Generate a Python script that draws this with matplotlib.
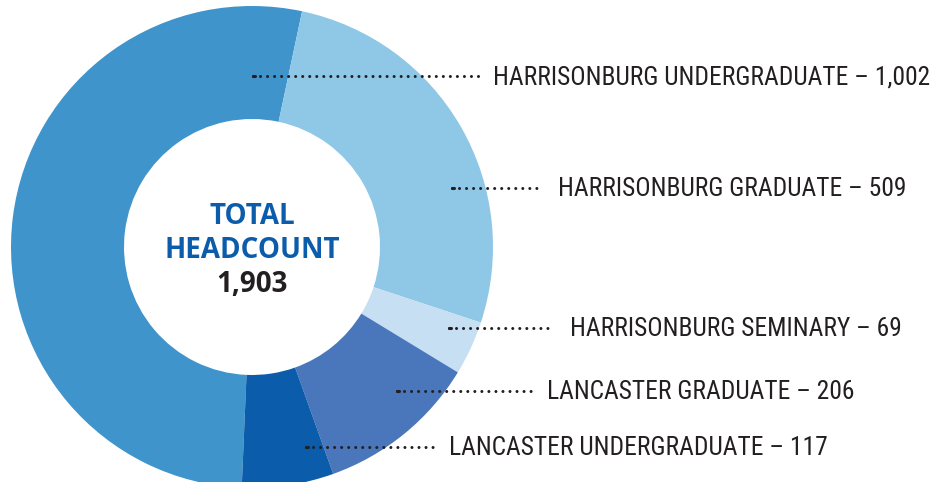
import matplotlib
matplotlib.use("Agg")
import os
import matplotlib.pyplot as plt
from matplotlib import font_manager
from matplotlib.font_manager import FontProperties

categories = ["HARRISONBURG UNDERGRADUATE", "HARRISONBURG GRADUATE", "HARRISONBURG SEMINARY",
              "LANCASTER GRADUATE", "LANCASTER UNDERGRADUATE"]
values = [1002, 509, 69, 206, 117]
total = 1903
colors = ["#3f94cc", "#8fc7e7", "#c6dff2", "#4a76bb", "#0b5caa"]


def find_font(bold=False):
    files = font_manager.findSystemFonts()
    prefs = ["RobotoCondensed", "OpenSansCondensed", "OpenSans_Condensed", "LiberationSansNarrow",
             "DejaVuSansCondensed", "NotoSansCondensed", "Roboto_Condensed"]
    for p in prefs:
        for f in files:
            b = os.path.basename(f).replace(" ", "").replace("-", "")
            if b.lower().startswith(p.lower()):
                rest = b[len(p):].lower()
                if bold:
                    if rest.startswith("bold") or rest.startswith("semibold"):
                        return f
                else:
                    if rest.startswith("regular") or rest.startswith(".ttf") or rest == ".ttf":
                        return f
    return None


f_reg = find_font(False)
lab_fp = FontProperties(fname=f_reg) if f_reg else FontProperties(family="Roboto")
ctr_fp = FontProperties(family="Open Sans", weight="bold")

W, H = 941, 482
fig = plt.figure(figsize=(W / 100, H / 100), dpi=100)
ax = fig.add_axes([0, 0, 1, 1])

cx, cy, R, r_in = 252, 247, 241, 128
# y axis inverted -> data angles are mirrored; HUG starts 182.5 deg clockwise from north
start = 360 - values[0] / total * 360 + 12 - 90
ax.pie(values, colors=colors, startangle=start, counterclock=True,
       center=(cx, cy), radius=R, frame=True,
       wedgeprops=dict(width=R - r_in, linewidth=0))
ax.set_xlim(0, W)
ax.set_ylim(H, 0)
ax.set_aspect("equal")
ax.axis("off")

# leader lines & labels: (x_start, x_end, y, label_x)
leaders = [(253, 478, 76, 493), (452, 540, 188, 558), (449, 553, 328, 570),
           (397, 531, 391, 547), (306, 433, 447, 449)]
lw = 2.2
texts = []
for (x0, x1, y, lx), cat, v in zip(leaders, categories, values):
    ax.plot([x0, x1], [y, y], color="#231f20", lw=lw, linestyle=(0, (0.001, 2.3)),
            dash_capstyle="round", solid_capstyle="round")
    ax.plot([x0, x0 + 2], [y, y], color="#231f20", lw=lw, solid_capstyle="round")
    t = ax.text(lx, y + 1, f"{cat} \u2013 {v:,}", fontproperties=lab_fp, fontsize=17.5,
                color="#231f20", va="center", ha="left")
    texts.append(t)

# fit label size so the first label is ~435 px wide like the reference
fig.canvas.draw()
rend = fig.canvas.get_renderer()
wpx = texts[0].get_window_extent(rend).width
size = 17.5 * min(1.1, 435 / wpx) if wpx > 0 else 17.5
for t in texts:
    t.set_fontsize(size)

ax.text(cx, 217, "TOTAL", fontproperties=ctr_fp, fontsize=20, color="#0b5caa",
        ha="center", va="center")
ax.text(cx, 250, "HEADCOUNT", fontproperties=ctr_fp, fontsize=20, color="#0b5caa",
        ha="center", va="center")
ax.text(cx, 284, f"{total:,}", fontproperties=ctr_fp, fontsize=20, color="#231f20",
        ha="center", va="center")

fig.savefig("out.png", dpi=100)
